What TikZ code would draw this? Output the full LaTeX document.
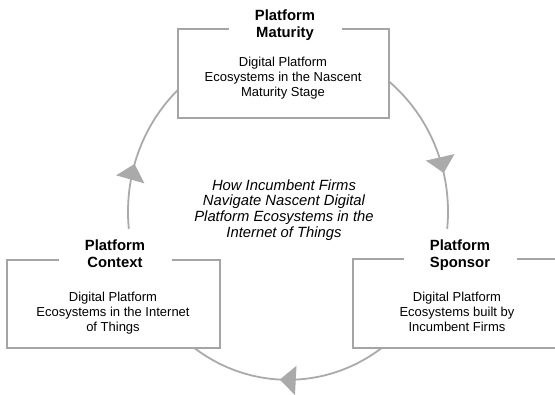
\documentclass[tikz,border=0pt]{standalone}
\usepackage{fontspec}
\setmainfont{Liberation Sans}
\usetikzlibrary{arrows.meta,decorations.markings,shapes.geometric}
\definecolor{ringgray}{RGB}{170,170,170}
\definecolor{framegray}{RGB}{165,165,165}
\tikzset{flowtip/.tip={Triangle[width=29pt,length=16pt]}}

\begin{document}
\begin{tikzpicture}[x=1pt,y=1pt,
  frame/.style={draw=framegray, line width=1.8pt, fill=white, inner sep=0pt},
  title/.style={fill=white, inner sep=0pt, minimum width=113pt, minimum height=53pt,
    align=center, font=\fontsize{14.8}{17}\selectfont\bfseries},
  body/.style={align=center, inner sep=0pt, font=\fontsize{13}{14.7}\selectfont},
  hub/.style={align=center, inner sep=0pt, font=\fontsize{14.8}{15.7}\selectfont\itshape},
  ring/.style={draw=ringgray, line width=1.8pt}
]
\useasboundingbox (0,0) rectangle (555,395);
\clip (0,0) rectangle (555,395);

% the cycle: one ellipse run clockwise, with three arrow heads
\node[ellipse, minimum width=320pt, minimum height=336pt, inner sep=0pt] (ring) at (288,183) {};
\draw[ring, postaction={decorate}, decoration={markings,
    mark=at position 0.212 with {\arrow{flowtip}},
    mark=at position 0.508 with {\arrow{flowtip}},
    mark=at position 0.797 with {\arrow{flowtip}}}]
  (ring.north) arc[start angle=90, end angle=-270, x radius=160pt, y radius=168pt];

% the three stages
\node[frame, minimum width=211pt, minimum height=89pt] (maturity) at (283.5,321.5) {};
\node[frame, minimum width=213pt, minimum height=88pt] (context) at (113.5,91) {};
\node[frame, minimum width=213pt, minimum height=89pt] (sponsor) at (459.5,91.5) {};

\node[title] (maturityT) at (285,369.5) {Platform\strut\\Maturity\strut};
\node[title] (contextT) at (115,139.5) {Platform\strut\\Context\strut};
\node[title] (sponsorT) at (460,139.5) {Platform\strut\\Sponsor\strut};

\node[body] (maturityB) at (283,316.5) {Digital Platform\strut\\Ecosystems in the Nascent\strut\\Maturity Stage\strut};
\node[body] (contextB) at (113,81.5) {Digital Platform\strut\\Ecosystems in the Internet\strut\\of Things\strut};
\node[body] (sponsorB) at (457,81.5) {Digital Platform\strut\\Ecosystems built by\strut\\Incumbent Firms\strut};

% central question
\node[hub] (hub) at (284,184.5) {How Incumbent Firms\strut\\Navigate Nascent Digital\strut\\Platform Ecosystems in the\strut\\Internet of Things\strut};
\end{tikzpicture}
\end{document}
